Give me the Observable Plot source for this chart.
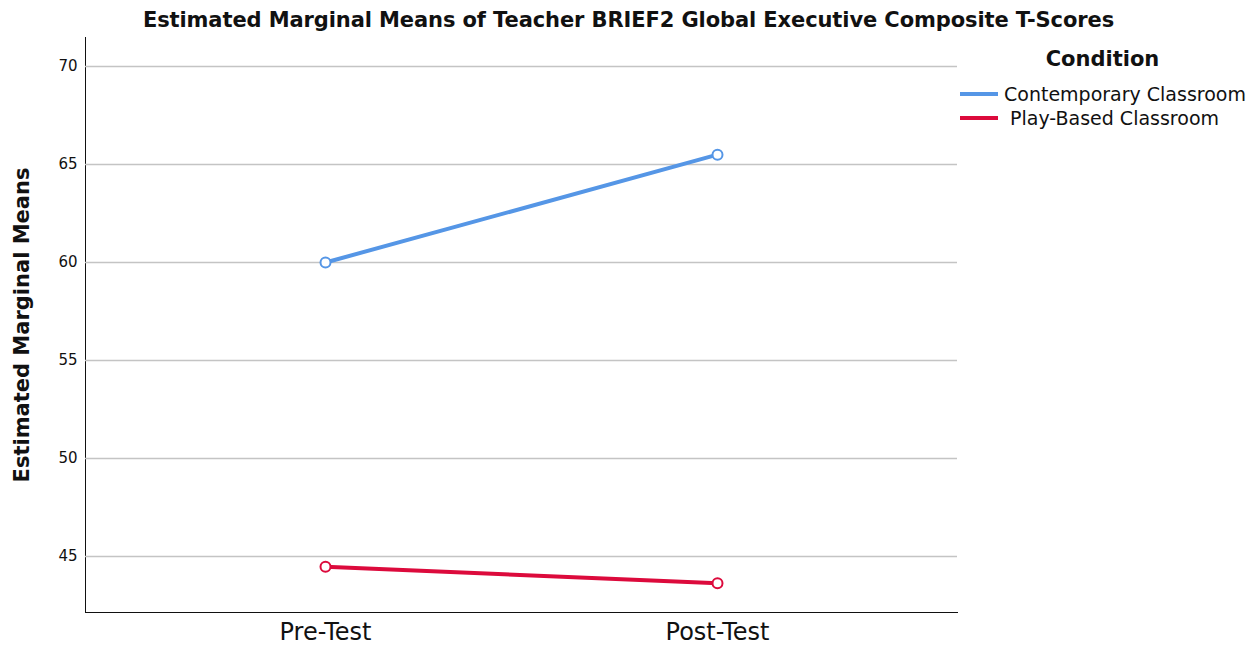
<!DOCTYPE html>
<html>
<head>
<meta charset="utf-8">
<script src="https://cdn.jsdelivr.net/npm/d3@7"></script>
<script src="https://cdn.jsdelivr.net/npm/@observablehq/plot@0.6"></script>
<style>
  html, body { margin: 0; padding: 0; background: #fff; }
  #wrap { position: relative; width: 1257px; height: 647px; font-family: "DejaVu Sans", sans-serif; color: #111; }
  #title { position: absolute; left: 0; width: 1257px; top: 6px; line-height: 28px; text-align: center; font-weight: bold; font-size: 21px; letter-spacing: -0.1px; }
  #legend { position: absolute; left: 955px; top: 46px; width: 300px; }
  #legend .head { text-align: center; font-weight: bold; font-size: 21px; line-height: 26px; width: 295px; margin-bottom: 10px; }
  #legend .row { display: flex; align-items: center; font-size: 19px; height: 24px; }
  #legend .sw { width: 38px; height: 4px; margin-left: 5px; margin-right: 6px; }
  #chart { position: absolute; left: 0; top: 0; }
</style>
</head>
<body>
<div id="wrap">
  <div id="chart"></div>
  <div id="title"></div>
  <div id="legend"></div>
</div>
<script>
const titleText = "Estimated Marginal Means of Teacher BRIEF2 Global Executive Composite T-Scores";
const yLabel = "Estimated Marginal Means";
const legendTitle = "Condition";
const times = ["Pre-Test", "Post-Test"];
const conditions = ["Contemporary Classroom", "Play-Based Classroom"];
const colors = ["#5596e6", "#dc0a3c"];
const contemporary = [60.0, 65.5];
const playBased = [44.48, 43.63];
const yTicks = [45, 50, 55, 60, 65, 70];

const series = [contemporary, playBased];
const data = [];
conditions.forEach((c, i) => times.forEach((t, j) => data.push({condition: c, time: t, value: series[i][j]})));

document.getElementById("title").textContent = titleText;

const plot = Plot.plot({
  width: 1257,
  height: 647,
  marginLeft: 85,
  marginRight: 300,
  marginTop: 37,
  marginBottom: 35,
  style: {fontFamily: "DejaVu Sans, sans-serif", color: "#111", background: "transparent", overflow: "visible"},
  x: {type: "point", domain: times, padding: 0.61, label: null, tickSize: 0, tickPadding: 10, line: true},
  y: {domain: [42.14, 71.48], ticks: yTicks, label: null, tickSize: 0, tickPadding: 8, line: true},
  color: {domain: conditions, range: colors},
  marks: [
    Plot.gridY(yTicks, {stroke: "#c4c4c4", strokeOpacity: 1, strokeWidth: 1.5}),
    Plot.line(data, {x: "time", y: "value", z: "condition", stroke: "condition", strokeWidth: 4}),
    Plot.dot(data, {x: "time", y: "value", stroke: "condition", fill: "white", r: 5, strokeWidth: 2}),
    Plot.text([yLabel], {frameAnchor: "left", textAnchor: "middle", dx: -63, rotate: -90, fontSize: 21, fontWeight: "bold"})
  ]
});
const sel = d3.select(plot);
sel.selectAll("[aria-label='y-axis tick label']").attr("font-size", 15);
sel.selectAll("[aria-label='x-axis tick label']").attr("font-size", 24);
sel.selectAll("[aria-label='y-axis line'], [aria-label='x-axis line']").attr("stroke", "#777").attr("stroke-width", 1.5);
document.getElementById("chart").appendChild(plot);

const leg = d3.select("#legend");
leg.append("div").attr("class", "head").text(legendTitle);
conditions.forEach((c, i) => {
  const row = leg.append("div").attr("class", "row");
  row.append("div").attr("class", "sw").style("background", colors[i]);
  row.append("span").text((i === 1 ? "\u00a0" : "") + c);
});
</script>
</body>
</html>
